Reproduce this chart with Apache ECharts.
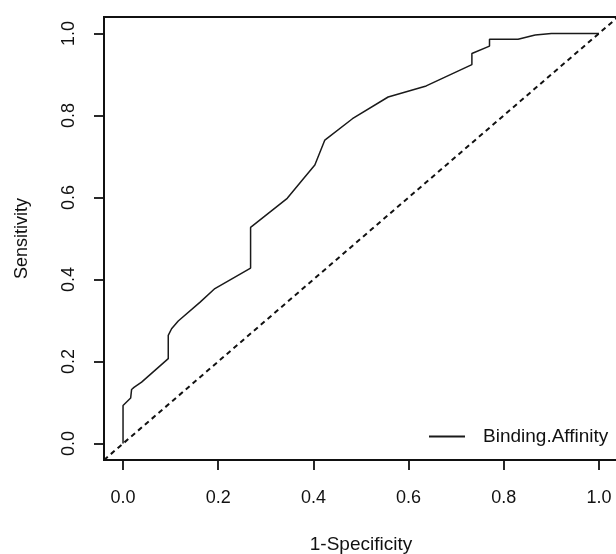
<!DOCTYPE html>
<html>
<head>
<meta charset="utf-8">
<script src="https://cdn.jsdelivr.net/npm/echarts@6/dist/echarts.min.js"></script>
<style>
html,body{margin:0;padding:0;background:#fff;}
#chart{width:616px;height:554px;}
</style>
</head>
<body>
<div id="chart"></div>
<script>
// ROC curve: 1-Specificity (false positive rate) vs Sensitivity
const fpr = [0, 0, 0.016, 0.018, 0.018, 0.023, 0.039, 0.095, 0.095, 0.102, 0.116, 0.162, 0.193, 0.268, 0.268, 0.345, 0.375, 0.403, 0.424, 0.482, 0.557, 0.637, 0.733, 0.733, 0.770, 0.770, 0.830, 0.866, 0.900, 1.0];
const tpr = [0, 0.093, 0.111, 0.113, 0.132, 0.137, 0.150, 0.207, 0.264, 0.280, 0.299, 0.345, 0.378, 0.428, 0.527, 0.598, 0.640, 0.679, 0.740, 0.792, 0.845, 0.872, 0.924, 0.951, 0.969, 0.986, 0.986, 0.996, 1.0, 1.0];
const diagX = [-0.04, 1.04];
const diagY = [-0.04, 1.04];
const tickValues = [0, 0.2, 0.4, 0.6, 0.8, 1.0];
const seriesName = 'Binding.Affinity';

const rocData = fpr.map((x, i) => [x, tpr[i]]);
const diagData = diagX.map((x, i) => [x, diagY[i]]);

const FONT = '"Liberation Sans", Arial, Helvetica, sans-serif';
const TXT = '#111';

const chart = echarts.init(document.getElementById('chart'), null, {renderer: 'canvas'});
chart.setOption({
  animation: false,
  backgroundColor: '#fff',
  textStyle: {fontFamily: FONT},
  grid: {
    left: 104, right: -2, top: 17, bottom: 94,
    outerBoundsMode: 'none', containLabel: false,
    show: true, borderColor: '#111', borderWidth: 2, backgroundColor: 'transparent'
  },
  legend: {
    data: [seriesName],
    left: 428, top: 427,
    padding: 0,
    itemWidth: 36, itemHeight: 14,
    itemStyle: {color: 'rgba(0,0,0,0)', borderWidth: 0, opacity: 0},
    textStyle: {fontSize: 19, color: TXT, fontFamily: FONT, padding: [0, 0, 0, 13]}
  },
  xAxis: {
    type: 'value', min: -0.04, max: 1.04,
    name: '1-Specificity', nameLocation: 'middle', nameGap: 75,
    nameTextStyle: {fontSize: 19, color: TXT, fontFamily: FONT},
    axisLine: {show: false, onZero: false},
    splitLine: {show: false},
    axisTick: {show: true, inside: false, length: 10, customValues: tickValues, lineStyle: {color: '#111', width: 1.8}},
    axisLabel: {customValues: tickValues, margin: 29, fontSize: 18, color: TXT, fontFamily: FONT,
      formatter: v => Number(v).toFixed(1)}
  },
  yAxis: {
    type: 'value', min: -0.04, max: 1.04,
    name: 'Sensitivity', nameLocation: 'middle', nameGap: 73, nameRotate: 90,
    nameTextStyle: {fontSize: 18, color: TXT, fontFamily: FONT},
    axisLine: {show: false, onZero: false},
    splitLine: {show: false},
    axisTick: {show: true, inside: false, length: 10, customValues: tickValues, lineStyle: {color: '#111', width: 1.8}},
    axisLabel: {customValues: tickValues, margin: 26, rotate: 90, fontSize: 18, color: TXT, fontFamily: FONT,
      formatter: v => Number(v).toFixed(1)}
  },
  series: [
    {
      name: seriesName, type: 'line', data: rocData,
      symbol: 'none', showSymbol: false,
      lineStyle: {color: '#1a1a1a', width: 1.5},
      itemStyle: {color: '#1a1a1a'}
    },
    {
      name: 'diagonal', type: 'line', data: diagData,
      symbol: 'none', showSymbol: false, silent: true,
      lineStyle: {color: '#111', width: 2, type: [5, 4]}
    }
  ]
});
</script>
</body>
</html>
